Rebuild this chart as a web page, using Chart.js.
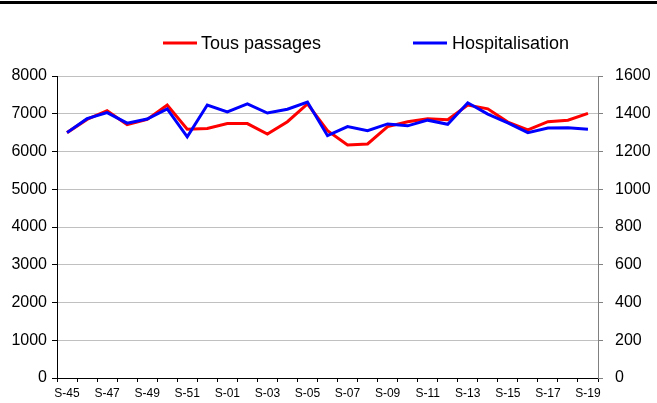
<!DOCTYPE html>
<html>
<head>
<meta charset="utf-8">
<script src="https://cdn.jsdelivr.net/npm/chart.js@4/dist/chart.umd.min.js"></script>
<style>
  html, body { margin: 0; padding: 0; background: #fff; }
  #wrap { width: 657px; height: 403px; position: relative; }
</style>
</head>
<body>
<div id="wrap"><canvas id="c" width="657" height="403"></canvas></div>
<script>
const categories = ["S-45","S-46","S-47","S-48","S-49","S-50","S-51","S-52",
  "S-01","S-02","S-03","S-04","S-05","S-06","S-07","S-08","S-09","S-10",
  "S-11","S-12","S-13","S-14","S-15","S-16","S-17","S-18","S-19"];
const tousPassages = [6500,6850,7080,6710,6850,7230,6590,6610,6740,6740,6460,6790,7260,
  6550,6170,6200,6660,6790,6870,6840,7230,7130,6780,6570,6790,6830,7010];
const hospitalisation = [1300,1374,1406,1350,1372,1426,1278,1446,1410,1452,1404,1424,1462,
  1284,1332,1310,1346,1336,1366,1344,1458,1398,1352,1300,1324,1326,1318];
const leftTicks = [0,1000,2000,3000,4000,5000,6000,7000,8000];
const rightTicks = [0,200,400,600,800,1000,1200,1400,1600];

const FONT = "'Liberation Sans', Arial, sans-serif";

const decor = {
  id: 'decor',
  afterDraw(chart) {
    const ctx = chart.ctx;
    ctx.save();
    ctx.fillStyle = '#000';
    ctx.fillRect(0, 1, 657, 3);
    const items = [
      { ds: chart.data.datasets[0], x1: 163, x2: 197, tx: 201 },
      { ds: chart.data.datasets[1], x1: 413, x2: 447, tx: 452 }
    ];
    const y = 43;
    ctx.font = "18px " + FONT;
    ctx.textBaseline = 'middle';
    ctx.textAlign = 'left';
    items.forEach(it => {
      ctx.strokeStyle = it.ds.borderColor;
      ctx.lineWidth = 3;
      ctx.beginPath();
      ctx.moveTo(it.x1, y);
      ctx.lineTo(it.x2, y);
      ctx.stroke();
      ctx.fillStyle = '#000';
      ctx.fillText(it.ds.label, it.tx, y + 1);
    });
    ctx.restore();
  }
};

new Chart(document.getElementById('c'), {
  type: 'line',
  data: {
    labels: categories,
    datasets: [
      { label: 'Tous passages', data: tousPassages, borderColor: '#ff0000', backgroundColor: '#ff0000',
        borderWidth: 3, pointRadius: 0, tension: 0, yAxisID: 'y', order: 1 },
      { label: 'Hospitalisation', data: hospitalisation, borderColor: '#0000ff', backgroundColor: '#0000ff',
        borderWidth: 3, pointRadius: 0, tension: 0, yAxisID: 'y1', order: 0 }
    ]
  },
  options: {
    responsive: false,
    animation: false,
    devicePixelRatio: 1,
    layout: { padding: { top: 76, left: 0, right: 0, bottom: 0 } },
    plugins: { legend: { display: false }, tooltip: { enabled: false } },
    scales: {
      x: {
        offset: true,
        grid: { offset: true, display: true, drawOnChartArea: false, color: '#000', tickLength: 4, tickColor: '#000' },
        border: { display: true, color: '#000', width: 1 },
        ticks: {
          autoSkip: false, maxRotation: 0, minRotation: 0, padding: 4,
          color: '#000', font: { family: FONT, size: 12 },
          callback: function(v, i) { return i % 2 === 0 ? categories[i] : ''; }
        },
        afterFit(s) { s.height = 25; }
      },
      y: {
        position: 'left', min: 0, max: 8000,
        afterBuildTicks(s) { s.ticks = leftTicks.map(v => ({ value: v })); },
        grid: { color: '#c0c0c0', tickColor: '#000', tickLength: 5, lineWidth: 1 },
        border: { display: true, color: '#000', width: 1 },
        ticks: { padding: 5, color: '#000', font: { family: FONT, size: 16 },
          callback: function(v) { return String(v); } },
        afterFit(s) { s.width = 57; }
      },
      y1: {
        position: 'right', min: 0, max: 1600,
        afterBuildTicks(s) { s.ticks = rightTicks.map(v => ({ value: v })); },
        grid: { drawOnChartArea: false, tickColor: '#808080', tickLength: 5 },
        border: { display: true, color: '#808080', width: 1 },
        ticks: { padding: 12, color: '#000', font: { family: FONT, size: 16 },
          callback: function(v) { return String(v); } },
        afterFit(s) { s.width = 59; }
      }
    }
  },
  plugins: [decor]
});
</script>
</body>
</html>
